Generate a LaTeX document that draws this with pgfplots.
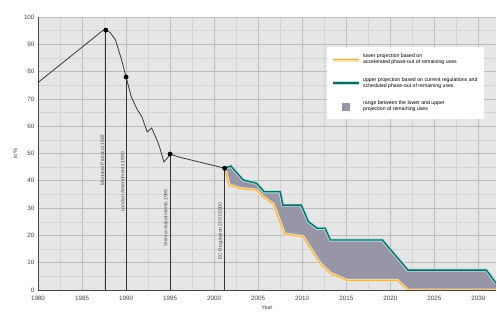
\documentclass[border=0pt]{standalone}
\usepackage{fontspec}
\setmainfont{Liberation Sans}
\usepackage{pgfplots}
\usepackage{pgfplotstable}
\pgfplotsset{compat=1.18}

\definecolor{bgc}{RGB}{230,230,230}
\definecolor{majg}{RGB}{188,188,188}
\definecolor{ming}{RGB}{212,212,212}
\definecolor{tealc}{RGB}{28,100,96}
\definecolor{tealhalo}{RGB}{165,232,228}
\definecolor{orc}{RGB}{238,180,90}
\definecolor{orhalo}{RGB}{246,226,178}
\definecolor{bandc}{RGB}{152,150,166}
\definecolor{linec}{RGB}{60,56,54}

\pgfplotstableread{
x y
1980 76
1986.8 93.6
1987.3 94.9
1987.7 95.2
1988.2 94.3
1988.8 91.6
1989.5 84.2
1990 78
1990.6 70.7
1991.2 66.5
1991.8 63.4
1992.4 57.9
1992.9 59.3
1993.5 55.0
1993.8 52.4
1994.3 46.9
1994.7 48.4
1995 49.8
1996 48.7
2001.2 44.6
}\mainline

\pgfplotstableread{
x y
2001.2 44.6
2001.9 45.4
2003.3 40.3
2004.8 39.1
2005.7 36.0
2007.5 36.0
2007.8 31.1
2009.9 31.1
2010.7 25.0
2011.7 22.6
2012.6 22.6
2013.2 18.3
2019.1 18.3
2022.0 7.3
2030.9 7.3
2032 2.5
}\upperline

\pgfplotstableread{
x y
2001.2 44.6
2001.7 38.5
2002.9 37.2
2004.8 36.6
2005.5 34.2
2006.7 31.5
2008.0 20.5
2010.1 19.5
2012.0 9.8
2013.2 6.1
2015.1 3.5
2020.8 3.5
2022.0 0.0
2032 0.0
}\lowerline

% band outline: upper line forward, lower line backward
\pgfplotstableread{
x y
2001.2 44.6
2001.9 45.4
2003.3 40.3
2004.8 39.1
2005.7 36.0
2007.5 36.0
2007.8 31.1
2009.9 31.1
2010.7 25.0
2011.7 22.6
2012.6 22.6
2013.2 18.3
2019.1 18.3
2022.0 7.3
2030.9 7.3
2032 2.5
2032 0.0
2022.0 0.0
2020.8 3.5
2015.1 3.5
2013.2 6.1
2012.0 9.8
2010.1 19.5
2008.0 20.5
2006.7 31.5
2005.5 34.2
2004.8 36.6
2002.9 37.2
2001.7 38.5
2001.2 44.6
}\bandpoly

\begin{document}
\begin{tikzpicture}
\begin{axis}[
  scale only axis, width=458bp, height=273bp,
  xmin=1980, xmax=2032, ymin=0, ymax=100,
  xtick={1980,1985,...,2030}, ytick={0,10,...,100},
  minor x tick num=1, minor y tick num=1,
  grid=both,
  major grid style={majg, line width=0.6pt},
  minor grid style={ming, line width=0.4pt},
  axis background/.style={fill=bgc},
  axis x line=bottom, axis y line=left,
  axis line style={-, line width=1pt, gray!55!black},
  major tick length=0pt, minor tick length=0pt,
  /pgf/number format/assume math mode=true,
  /pgf/number format/1000 sep={},
  ticklabel style={font=\fontsize{6.3}{7}\selectfont, text=black!75},
  x tick label style={yshift=-3bp},
  xlabel={Year},
  xlabel style={font=\fontsize{5.5}{6}\selectfont, text=black!75, yshift=2bp},
  ylabel={in \%},
  ylabel style={font=\fontsize{5.5}{6}\selectfont, text=black!75},
  legend style={at={(0.631,0.89)}, anchor=north west, fill=white, draw=none,
    inner xsep=4bp, inner ysep=5bp, row sep=8bp, font=\fontsize{5.2}{6}\selectfont,
    cells={align=left}},
  legend cell align=left,
]
% band
\addplot[fill=bandc, draw=none, forget plot] table[x=x,y=y] {\bandpoly} -- cycle;
% halos and lines
\addplot[orhalo, line width=3pt, forget plot] table[x=x,y=y] {\lowerline};
\addplot[orc, line width=1.1pt, forget plot] table[x=x,y=y] {\lowerline};
\addplot[tealhalo, line width=3.2pt, forget plot] table[x=x,y=y] {\upperline};
\addplot[tealc, line width=1.4pt, forget plot] table[x=x,y=y] {\upperline};
% main line
\addplot[linec, line width=0.8pt, forget plot] table[x=x,y=y] {\mainline};
% vertical lines
\addplot[gray!40!black, line width=0.7pt, forget plot] coordinates {(1987.7,0) (1987.7,95.2)};
\addplot[gray!40!black, line width=0.7pt, forget plot] coordinates {(1990,0) (1990,78)};
\addplot[gray!40!black, line width=0.7pt, forget plot] coordinates {(1995,0) (1995,49.8)};
\addplot[gray!40!black, line width=0.7pt, forget plot] coordinates {(2001.2,0) (2001.2,44.6)};
% dots
\addplot[only marks, mark=*, mark size=2.2pt, black, forget plot] coordinates {(1987.7,95.2) (1990,78) (1995,49.8) (2001.2,44.6)};
% rotated labels
\node[rotate=90, anchor=south, inner sep=1.5bp, font=\fontsize{5}{6}\selectfont, text=black!70] at (axis cs:1987.7,47.6) {Montreal Protocol 1987};
\node[rotate=90, anchor=south, inner sep=1.5bp, font=\fontsize{5}{6}\selectfont, text=black!70] at (axis cs:1990,39.6) {London Amendments 1990};
\node[rotate=90, anchor=south, inner sep=1.5bp, font=\fontsize{5}{6}\selectfont, text=black!70] at (axis cs:1995,26.4) {Vienna Adjustments 1995};
\node[rotate=90, anchor=south, inner sep=1.5bp, font=\fontsize{5}{6}\selectfont, text=black!70] at (axis cs:2001.2,21.6) {EC Regulation 2037/2000};
% legend
\addlegendimage{legend image code/.code={\draw[orhalo,line width=4pt] (0bp,0bp)--(26bp,0bp); \draw[orc,line width=1.2pt] (0bp,0bp)--(26bp,0bp);}}
\addlegendentry{lower projection based on\\ accelerated phase-out of remaining uses}
\addlegendimage{legend image code/.code={\draw[tealhalo,line width=4pt] (0bp,0bp)--(26bp,0bp); \draw[tealc,line width=1.4pt] (0bp,0bp)--(26bp,0bp);}}
\addlegendentry{upper projection based on current regulations and\\ scheduled phase-out of remaining uses}
\addlegendimage{legend image code/.code={\draw[white,line width=0.1pt] (0bp,0bp)--(26bp,0bp); \fill[bandc] (9.5bp,-3.5bp) rectangle (16.5bp,3.5bp);}}
\addlegendentry{range between the lower and upper\\ projection of remaining uses}
\end{axis}
\pgfresetboundingbox
\path (-38bp,-23bp) rectangle (459bp,290bp);
\end{tikzpicture}
\end{document}
